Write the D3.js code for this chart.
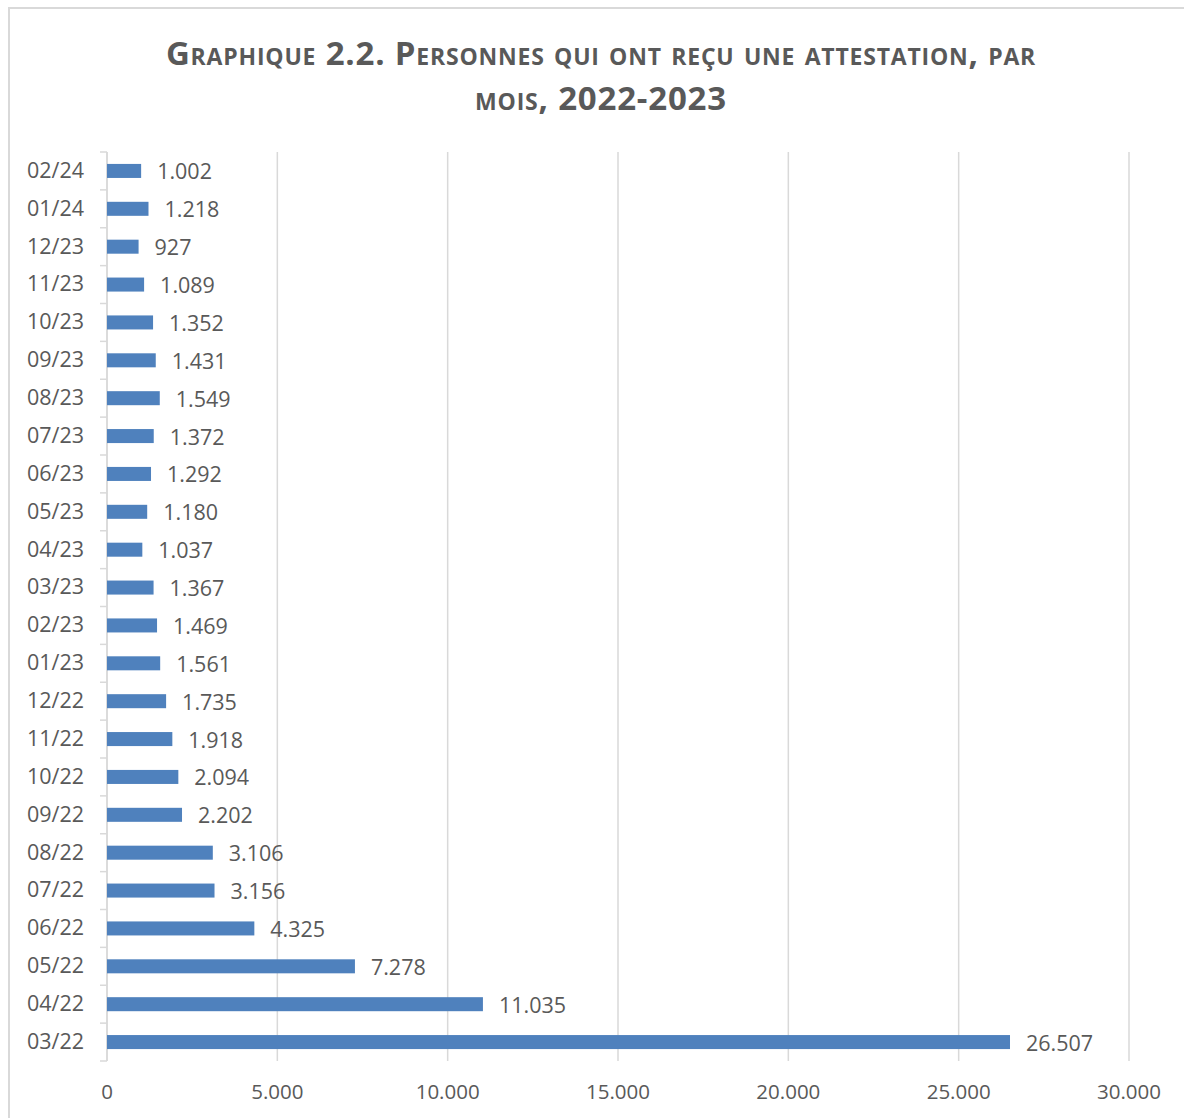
<!DOCTYPE html>
<html>
<head>
<meta charset="utf-8">
<script src="https://cdn.jsdelivr.net/npm/d3@7"></script>
<style>
  body { margin: 0; background: #fff; }
  svg text { font-family: "Open Sans", "Noto Sans", sans-serif; fill: #595959; }
</style>
</head>
<body>
<svg width="1184" height="1118"></svg>
<script>
// months from top to bottom
var months = ["02/24","01/24","12/23","11/23","10/23","09/23","08/23","07/23","06/23","05/23","04/23","03/23",
  "02/23","01/23","12/22","11/22","10/22","09/22","08/22","07/22","06/22","05/22","04/22","03/22"];
var counts = [1002,1218,927,1089,1352,1431,1549,1372,1292,1180,1037,1367,
  1469,1561,1735,1918,2094,2202,3106,3156,4325,7278,11035,26507];
var ticks = [0,5000,10000,15000,20000,25000,30000];
var titleLines = ["Graphique 2.2. Personnes qui ont reçu une attestation, par", "mois, 2022-2023"];

var svg = d3.select("svg");
var fmt = function(d) { return d3.format(",")(d).replace(/,/g, "."); };

// chart frame
svg.append("rect")
  .attr("x", 9).attr("y", 8).attr("width", 1200).attr("height", 1150)
  .attr("fill", "none").attr("stroke", "#d9d9d9").attr("stroke-width", 2);

svg.selectAll(".title").data(titleLines).enter().append("text")
  .attr("class", "title")
  .attr("x", 601)
  .attr("y", function(d, i) { return 65 + i * 45; })
  .attr("text-anchor", "middle")
  .style("font-variant", "small-caps")
  .style("font-weight", "bold")
  .style("font-size", "33px")
  .style("letter-spacing", "0.8px")
  .text(function(d) { return d; });

var x = d3.scaleLinear().domain([0, 30000]).range([107, 1129]);
var y = d3.scaleBand().domain(months).range([152, 1061]).paddingInner(0.63).paddingOuter(0.315);

// gridlines
svg.append("g").selectAll("line").data(ticks).enter().append("line")
  .attr("x1", function(d) { return x(d); }).attr("x2", function(d) { return x(d); })
  .attr("y1", 152).attr("y2", 1061)
  .attr("stroke", "#d9d9d9").attr("stroke-width", 1.5);

// x tick labels
svg.append("g").selectAll("text").data(ticks).enter().append("text")
  .attr("x", function(d) { return x(d); })
  .attr("y", 1099)
  .attr("text-anchor", "middle")
  .style("font-size", "20.5px")
  .text(fmt);

// category axis
var yAxis = d3.axisLeft(y).tickSize(7).tickSizeOuter(0);
var ga = svg.append("g").attr("transform", "translate(107,0)").call(yAxis);
ga.select(".domain").remove();
ga.append("line").attr("x1", 0).attr("x2", 0).attr("y1", 152).attr("y2", 1061)
  .attr("stroke", "#d9d9d9").attr("stroke-width", 1.5);
// ticks at band boundaries instead of centers
ga.selectAll(".tick line").remove();
var bounds = d3.range(months.length + 1).map(function(i) { return 152 + i * (909 / months.length); });
ga.selectAll(".bnd").data(bounds).enter().append("line")
  .attr("x1", -7).attr("x2", 0)
  .attr("y1", function(d) { return d; }).attr("y2", function(d) { return d; })
  .attr("stroke", "#d9d9d9").attr("stroke-width", 1.5);
ga.selectAll(".tick text")
  .attr("x", -23)
  .style("font-size", "21.5px")
  .style("font-family", "'Open Sans', 'Noto Sans', sans-serif")
  .attr("fill", "#595959");

// bars
svg.append("g").selectAll("rect").data(counts).enter().append("rect")
  .attr("x", x(0))
  .attr("y", function(d, i) { return y(months[i]); })
  .attr("width", function(d) { return x(d) - x(0); })
  .attr("height", y.bandwidth())
  .attr("fill", "#4f81bd");

// value labels
svg.append("g").selectAll("text").data(counts).enter().append("text")
  .attr("x", function(d) { return x(d) + 16; })
  .attr("y", function(d, i) { return y(months[i]) + y.bandwidth() / 2 + 1; })
  .attr("dy", "0.35em")
  .style("font-size", "21.5px")
  .text(fmt);
</script>
</body>
</html>
